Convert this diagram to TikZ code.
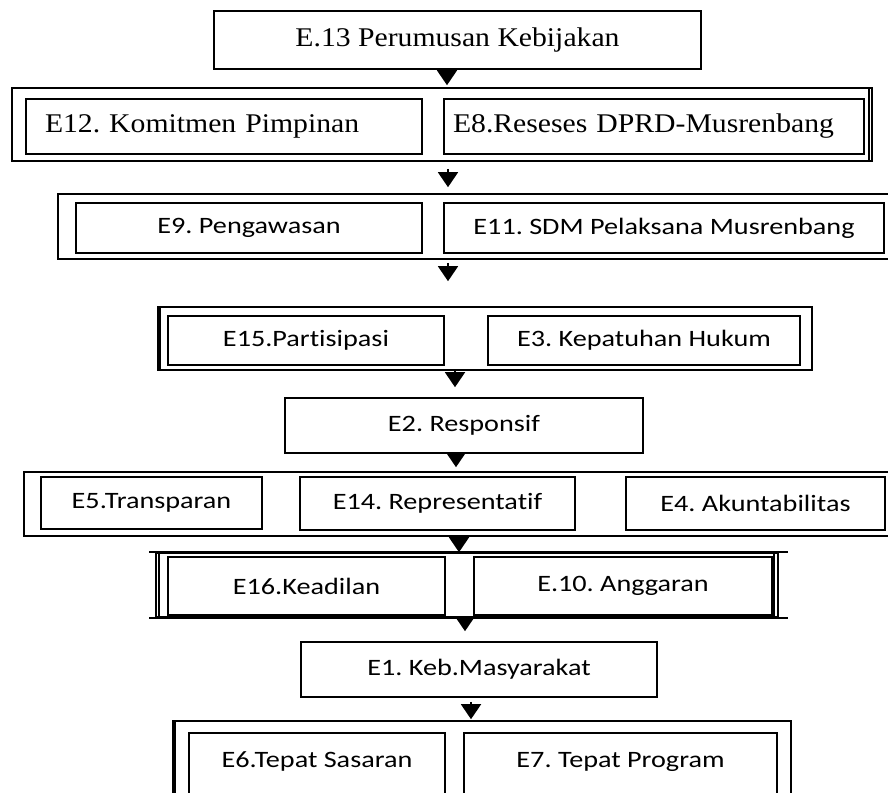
\documentclass[tikz,border=0pt]{standalone}
\usepackage{fontspec}
\setmainfont{Liberation Serif}[FakeStretch=1.1]
\newfontfamily\calib{Carlito}[FakeStretch=1.2, Ligatures=NoCommon]
\frenchspacing
\usetikzlibrary{arrows.meta}
\tikzset{x=1pt, y=-1pt,
  box/.style={draw, line width=1.6pt, inner sep=0pt,
    font=\calib\fontsize{23.5}{26}\selectfont},
  sbox/.style={box, font=\fontsize{27}{30}\selectfont},
  grp/.style={draw, line width=1.6pt, inner sep=0pt},
  flow/.style={line width=1.6pt, -{Triangle[width=20pt,length=15pt]}}}

\begin{document}
\begin{tikzpicture}
\useasboundingbox (0,0) rectangle (888,792);
\clip (0,0) rectangle (888,792);
  \node[grp, minimum width=860, minimum height=73] (g1) at (442,124.5) {};
  \node[grp, minimum width=842, minimum height=65] (g2) at (479,226.5) {};
  \node[grp, minimum width=654, minimum height=63] (g3) at (485,338.5) {};
  \node[grp, minimum width=876, minimum height=64] (g4) at (462,504) {};
  \node[grp, minimum width=622, minimum height=64] (g5) at (467,585) {};
  \node[grp, minimum width=618, minimum height=89] (g6) at (482,765.5) {};

  \node[sbox, minimum width=487, minimum height=58] (e13) at (457.5,40) {E.13 Perumusan Kebijakan};
  \node[sbox, minimum width=396, minimum height=55, text width=358, align=left] (e12) at (224,126.5) {E12. Komitmen Pimpinan};
  \node[sbox, minimum width=420, minimum height=55, text width=402, align=left] (e8) at (654,126.5) {E8.Reseses DPRD-Musrenbang};
  \node[box, minimum width=346, minimum height=50] (e9) at (249,228) {E9. Pengawasan};
  \node[box, minimum width=440, minimum height=50] (e11) at (664,228) {E11. SDM Pelaksana Musrenbang};
  \node[box, minimum width=276, minimum height=49] (e15) at (306,340.5) {E15.Partisipasi};
  \node[box, minimum width=312, minimum height=49] (e3) at (644,340.5) {E3. Kepatuhan Hukum};
  \node[box, minimum width=358, minimum height=55] (e2) at (464,425.5) {E2. Responsif};
  \node[box, minimum width=221, minimum height=52] (e5) at (151.5,503) {E5.Transparan};
  \node[box, minimum width=275, minimum height=53] (e14) at (437.5,503.5) {E14. Representatif};
  \node[box, minimum width=259, minimum height=53] (e4) at (755.5,503.5) {E4. Akuntabilitas};
  \node[box, minimum width=277, minimum height=58] (e16) at (306.5,586) {E16.Keadilan};
  \node[box, minimum width=298, minimum height=58] (e10) at (623,586) {E.10. Anggaran};
  \node[box, minimum width=356, minimum height=55] (e1) at (479,669.5) {E1. Keb.Masyarakat};
  \node[box, minimum width=256, minimum height=77] (e6) at (317,771.5) {\raisebox{10pt}[\height][\depth]{E6.Tepat Sasaran}};
  \node[box, minimum width=313, minimum height=77] (e7) at (620.5,771.5) {\raisebox{10pt}[\height][\depth]{E7. Tepat Program}};

  \draw[line width=1.6pt] ([xshift=-4pt]g1.north east) -- ([xshift=-4pt]g1.south east);
  \draw[line width=1.6pt] ([xshift=3pt]g3.north west) -- ([xshift=3pt]g3.south west);
  \draw[line width=1.6pt] ([xshift=4pt]g5.north west) -- ([xshift=4pt]g5.south west);
  \draw[line width=1.6pt] ([xshift=-5pt]g5.north east) -- ([xshift=-5pt]g5.south east);
  \draw[line width=1.6pt] ([xshift=-6pt]g5.north west) -- ([xshift=9pt]g5.north east);
  \draw[line width=1.6pt] ([xshift=-6pt]g5.south west) -- ([xshift=9pt]g5.south east);
  \draw[line width=1.6pt] ([xshift=3pt]g6.north west) -- ([xshift=3pt]g6.south west);

  \draw[flow, shorten >=2pt] ([xshift=-10.5pt]e13.south) -- ([xshift=-10.5pt]e13.south |- g1.north);
  \draw[flow, shorten <=7pt, shorten >=6pt] ([xshift=6pt]g1.south) -- ([xshift=6pt]g1.south |- g2.north);
  \draw[flow, shorten <=3pt, shorten >=25pt] ([xshift=-31pt]g2.south) -- ([xshift=-31pt]g2.south |- g3.north);
  \draw[flow, shorten >=10pt] ([xshift=-30pt]g3.south) -- ([xshift=-30pt]g3.south |- e2.north);
  \draw[flow, shorten >=4pt] ([xshift=-8pt]e2.south) -- ([xshift=-8pt]e2.south |- g4.north);
  \draw[flow] ([xshift=-3pt]g4.south) -- ([xshift=-3pt]g4.south |- g5.north);
  \draw[flow, shorten >=10pt] ([xshift=-2pt]g5.south) -- ([xshift=-2pt]g5.south |- e1.north);
  \draw[flow, shorten <=4pt, shorten >=1pt] ([xshift=-8pt]e1.south) -- ([xshift=-8pt]e1.south |- g6.north);
\end{tikzpicture}
\end{document}
